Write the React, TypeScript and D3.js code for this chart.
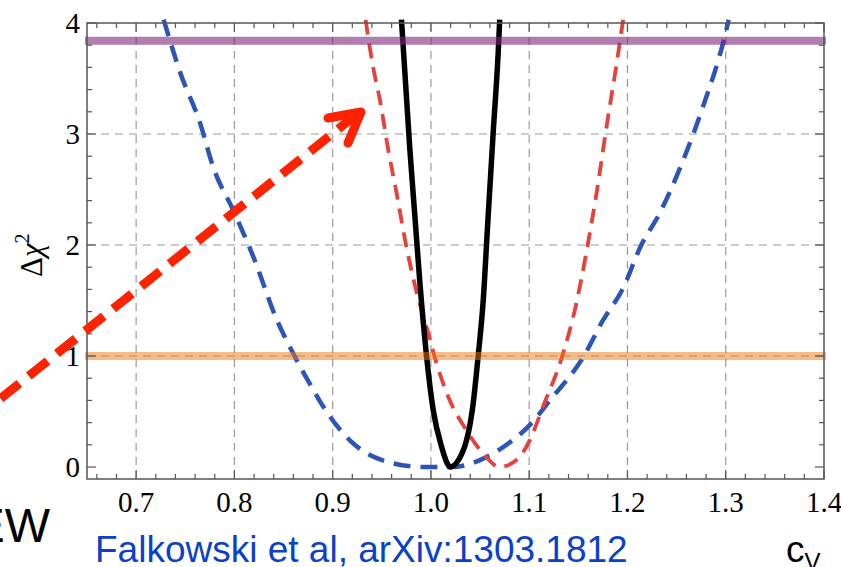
import React from "react";
import * as d3 from "d3";

// ---- data ----
const xTicks = [0.7, 0.8, 0.9, 1.0, 1.1, 1.2, 1.3, 1.4];
const xTickLabels = ["0.7", "0.8", "0.9", "1.0", "1.1", "1.2", "1.3", "1.4"];
const yTicks = [0, 1, 2, 3, 4];
const yTickLabels = ["0", "1", "2", "3", "4"];
const xGrid = [0.7, 0.8, 0.9, 1.0, 1.1, 1.2, 1.3];
const yGrid = [1, 2, 3];

const blueX = [0.728, 0.745, 0.765, 0.7785, 0.799, 0.819, 0.843, 0.860, 0.880, 0.890, 0.9175, 0.951, 0.992, 1.02, 1.0735, 1.1007, 1.121, 1.155, 1.175, 1.196, 1.213, 1.233, 1.257, 1.277, 1.299, 1.303];
const blueY = [4.03, 3.55, 3.10, 2.70, 2.31, 1.90, 1.33, 1.02, 0.70, 0.55, 0.24, 0.06, 0.0, 0.0, 0.18, 0.38, 0.60, 0.99, 1.32, 1.62, 1.98, 2.29, 2.77, 3.25, 3.88, 4.03];

const redX = [0.9335, 0.936, 0.941, 0.948, 0.9565, 0.965, 0.975, 0.985, 0.9956, 1.0057, 1.0176, 1.036, 1.053, 1.070, 1.087, 1.1007, 1.114, 1.1345, 1.148, 1.158, 1.1685, 1.1787, 1.189, 1.1956];
const redY = [4.03, 3.88, 3.61, 3.31, 2.86, 2.47, 1.985, 1.59, 1.26, 0.934, 0.633, 0.333, 0.123, 0.0, 0.063, 0.243, 0.543, 1.024, 1.475, 1.925, 2.466, 3.066, 3.637, 4.03];

const blackX = [0.970, 0.9786, 0.9837, 0.9888, 0.9956, 1.0023, 1.0108, 1.0175, 1.0193, 1.033, 1.043, 1.048, 1.053, 1.058, 1.0633, 1.0684, 1.070];
const blackY = [4.03, 2.856, 2.255, 1.655, 0.994, 0.514, 0.183, 0.018, 0.0, 0.153, 0.574, 0.994, 1.475, 2.225, 3.006, 3.727, 4.03];

const bandLevels = [3.84, 1];
const bandColors = ["rgb(125,40,125)", "rgb(232,122,20)"];
const bandOpacity = [0.6, 0.5];

const W = 841;
const H = 567;
const L = 87, R = 824, T = 23, B = 479;

export default function App() {
  const x = d3.scaleLinear().domain([0.65, 1.4]).range([L, R]);
  const y = d3.scaleLinear().domain([-0.108, 4]).range([B, T]);

  const line = d3
    .line<[number, number]>()
    .x((d) => x(d[0]))
    .y((d) => y(d[1]))
    .curve(d3.curveMonotoneX);

  const zip = (xs: number[], ys: number[]) => xs.map((v, i) => [v, ys[i]] as [number, number]);

  const xMinor = d3.range(33, 71).map((i) => ({ v: i / 50, major: i % 5 === 0 }));
  const yMinor = d3.range(0, 21).map((i) => ({ v: i / 5, major: i % 5 === 0 }));

  const tickColor = "#555";

  return (
    <svg
      width={W}
      height={H}
      viewBox={`0 0 ${W} ${H}`}
      style={{ position: "absolute", left: 0, top: 0, background: "#fff" }}
    >
      <defs>
        <clipPath id="plotclip">
          <rect x={L} y={T - 4} width={R - L} height={B - T + 4} />
        </clipPath>
      </defs>
      <rect x={0} y={0} width={W} height={H} fill="#fff" />

      {/* grid */}
      <g stroke="#9a9a9a" strokeWidth={1.2} strokeDasharray="8 6" fill="none">
        {xGrid.map((v) => (
          <line key={"gx" + v} x1={x(v)} x2={x(v)} y1={B} y2={T} />
        ))}
        {yGrid.map((v) => (
          <line key={"gy" + v} x1={L} x2={R} y1={y(v)} y2={y(v)} />
        ))}
      </g>

      {/* curves */}
      <g clipPath="url(#plotclip)" fill="none">
        <path
          d={line(zip(blueX, blueY)) || ""}
          stroke="#2c55b8"
          strokeWidth={4.5}
          strokeDasharray="17 10"
        />
        <path
          d={line(zip(redX, redY)) || ""}
          stroke="#e8403a"
          strokeWidth={3.8}
          strokeDasharray="15 9"
        />
        <path
          d={line(zip(blackX, blackY)) || ""}
          stroke="#000"
          strokeWidth={5.5}
          strokeLinejoin="round"
        />
      </g>

      {/* threshold bands */}
      {bandLevels.map((v, i) => (
        <rect
          key={"band" + i}
          x={L - 2}
          width={R - L + 4}
          y={y(v) - 4}
          height={8}
          fill={bandColors[i]}
          fillOpacity={bandOpacity[i]}
        />
      ))}

      {/* frame */}
      <rect x={L} y={T} width={R - L} height={B - T} fill="none" stroke={tickColor} strokeWidth={1.5} />
      <g stroke={tickColor} strokeWidth={1.2}>
        {xMinor.map((t) => {
          const len = t.major ? 9 : 5;
          return (
            <g key={"xt" + t.v}>
              <line x1={x(t.v)} x2={x(t.v)} y1={B} y2={B - len} />
              <line x1={x(t.v)} x2={x(t.v)} y1={T} y2={T + len} />
            </g>
          );
        })}
        {yMinor.map((t) => {
          const len = t.major ? 9 : 5;
          return (
            <g key={"yt" + t.v}>
              <line x1={L} x2={L + len} y1={y(t.v)} y2={y(t.v)} />
              <line x1={R} x2={R - len} y1={y(t.v)} y2={y(t.v)} />
            </g>
          );
        })}
      </g>

      {/* tick labels */}
      <g fontFamily="'Liberation Serif', 'Times New Roman', serif" fontSize={29} fill="#000">
        {xTicks.map((v, i) => (
          <text key={"xl" + v} x={x(v)} y={512} textAnchor="middle">
            {xTickLabels[i]}
          </text>
        ))}
        {yTicks.map((v, i) => (
          <text key={"yl" + v} x={80} y={y(v) + 10} textAnchor="end">
            {yTickLabels[i]}
          </text>
        ))}
      </g>

      {/* y axis title */}
      <text
        transform="translate(42,277) rotate(-90)"
        fontFamily="'Liberation Serif', 'Times New Roman', serif"
        fontSize={31}
        fill="#000"
      >
        <tspan>Δ</tspan>
        <tspan fontStyle="italic">χ</tspan>
        <tspan fontSize={20} dy={-13}>2</tspan>
      </text>

      {/* arrow annotation */}
      <g stroke="#ff2200" fill="none" strokeWidth={9}>
        <line x1={357} y1={114} x2={-20} y2={415} strokeDasharray="24 12" />
        <polyline
          points="328,118 361,112 348,143"
          strokeLinecap="round"
          strokeLinejoin="round"
        />
      </g>

      {/* texts */}
      <text x={50} y={542} textAnchor="end" fontFamily="'Liberation Sans', Arial, sans-serif" fontSize={48} fill="#000">
        EW
      </text>
      <text x={95} y={562} fontFamily="'Liberation Sans', Arial, sans-serif" fontSize={37} fill="#0b3fcc">
        Falkowski et al, arXiv:1303.1812
      </text>
      <text x={786} y={562} fontFamily="'Liberation Sans', Arial, sans-serif" fontSize={37} fill="#000">
        c<tspan fontSize={24} dy={8}>V</tspan>
      </text>
    </svg>
  );
}
